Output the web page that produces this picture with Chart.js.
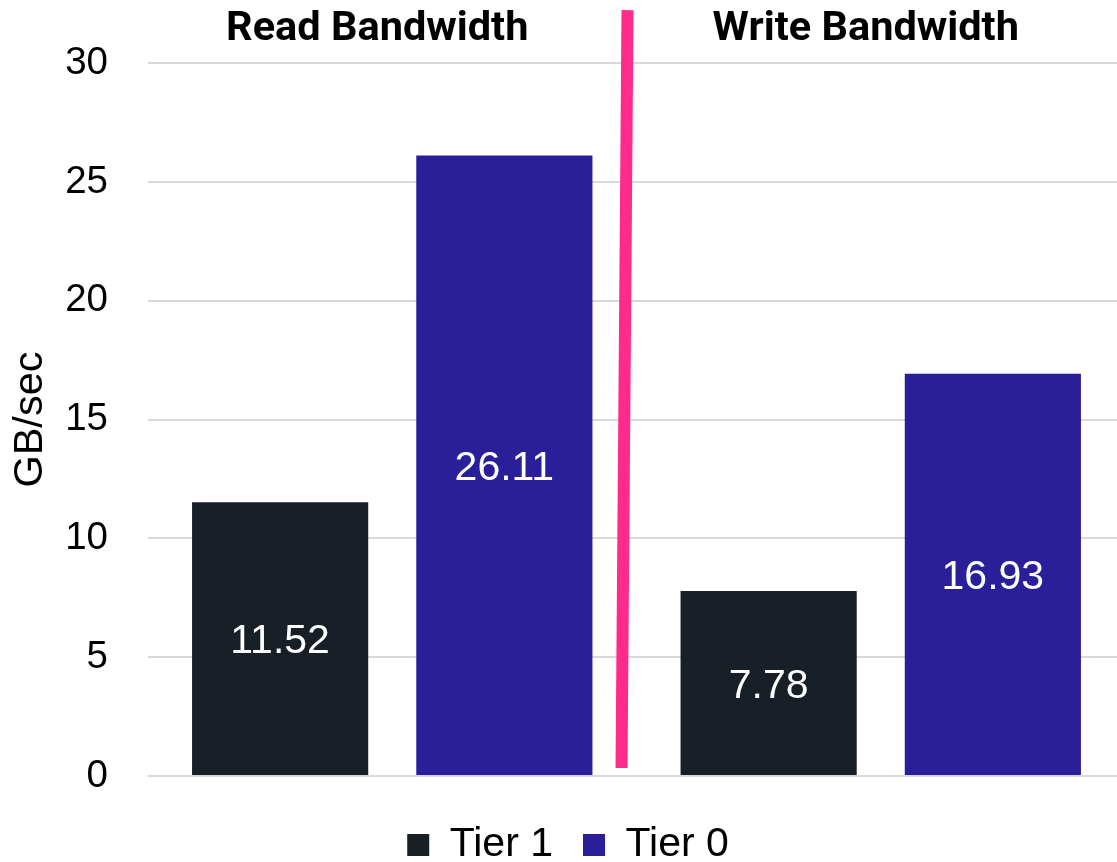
<!DOCTYPE html>
<html>
<head>
<meta charset="utf-8">
<script src="https://cdn.jsdelivr.net/npm/chart.js@4.4.1/dist/chart.umd.min.js"></script>
<style>
  html, body { margin: 0; padding: 0; background: #ffffff; }
  #wrap { width: 1117px; height: 862px; }
</style>
</head>
<body>
<div id="wrap"><canvas id="c" width="1117" height="862"></canvas></div>
<script>
const categories = ["Read Bandwidth", "Write Bandwidth"];
const seriesNames = ["Tier 1", "Tier 0"];
const tier1Values = [11.52, 7.78];
const tier0Values = [26.11, 16.93];
const yTicks = [0, 5, 10, 15, 20, 25, 30];
const yTitle = "GB/sec";

const COLORS = { tier1: "#181f26", tier0: "#2b1f99", divider: "#ff2a8a", grid: "#d9d9d9" };
const BASE_FONT = "'Liberation Sans', Arial, sans-serif";

// The original plot area runs slightly past the right edge of the picture.
const extendArea = {
  id: "extendArea",
  afterLayout(chart) {
    const d = 8;
    chart.chartArea.right += d;
    chart.chartArea.width += d;
    const x = chart.scales.x;
    x.right += d;
    x.width += d;
    x.configure();
    if (chart.legend) {
      chart.legend.left += 9.5;
      chart.legend.right += 9.5;
    }
  }
};

const valueLabels = {
  id: "valueLabels",
  afterDatasetsDraw(chart) {
    const ctx = chart.ctx;
    ctx.save();
    ctx.fillStyle = "#ffffff";
    ctx.font = "41px " + BASE_FONT;
    ctx.textAlign = "center";
    ctx.textBaseline = "middle";
    chart.data.datasets.forEach((ds, di) => {
      const meta = chart.getDatasetMeta(di);
      meta.data.forEach((el, i) => {
        const v = ds.data[i];
        ctx.fillText(v.toFixed(2), el.x, (el.y + el.base) / 2 + 3.5);
      });
    });
    ctx.restore();
  }
};

const divider = {
  id: "divider",
  afterDatasetsDraw(chart) {
    const x = chart.scales.x;
    const area = chart.chartArea;
    const mid = x.getPixelForValue(0.5);
    const ctx = chart.ctx;
    ctx.save();
    ctx.strokeStyle = COLORS.divider;
    ctx.lineWidth = 12;
    ctx.beginPath();
    ctx.moveTo(mid - 9, area.top - 53);
    ctx.lineTo(mid - 15, area.bottom - 8);
    ctx.stroke();
    ctx.restore();
  }
};

new Chart(document.getElementById("c"), {
  type: "bar",
  data: {
    labels: categories,
    datasets: [
      { label: seriesNames[0], data: tier1Values, backgroundColor: COLORS.tier1,
        categoryPercentage: 0.918, barPercentage: 0.7857 },
      { label: seriesNames[1], data: tier0Values, backgroundColor: COLORS.tier0,
        categoryPercentage: 0.918, barPercentage: 0.7857 }
    ]
  },
  options: {
    responsive: false,
    animation: false,
    layout: { padding: { top: 3.6, right: 0, bottom: -13.5, left: 0 } },
    scales: {
      x: {
        position: "top",
        afterFit(scale) { scale.height = 59.4; },
        grid: { display: false, drawTicks: false },
        border: { display: false },
        ticks: {
          color: "#000000",
          font: { family: "Roboto, 'Liberation Sans', sans-serif", size: 41.5, weight: "bold" },
          padding: 8.6,
          labelOffset: -15,
          maxRotation: 0
        }
      },
      y: {
        min: 0,
        max: 30,
        afterFit(scale) { scale.width = 148; },
        afterBuildTicks(scale) { scale.ticks = yTicks.map(v => ({ value: v })); },
        grid: { color: COLORS.grid, lineWidth: 2, drawTicks: false },
        border: { display: false },
        ticks: {
          color: "#000000",
          font: { family: BASE_FONT, size: 38.5 },
          padding: 40
        },
        title: {
          display: true,
          text: yTitle,
          color: "#000000",
          font: { family: BASE_FONT, size: 41.5 },
          padding: { top: 6, bottom: 11 }
        }
      }
    },
    plugins: {
      legend: {
        position: "bottom",
        title: { display: true, text: "", font: { size: 10 }, padding: { top: 6.5, bottom: 0 } },
        labels: {
          color: "#000000",
          font: { family: BASE_FONT, size: 41 },
          boxWidth: 22,
          boxHeight: 22,
          padding: 30
        }
      },
      tooltip: { enabled: false }
    }
  },
  plugins: [extendArea, divider, valueLabels]
});
</script>
</body>
</html>
